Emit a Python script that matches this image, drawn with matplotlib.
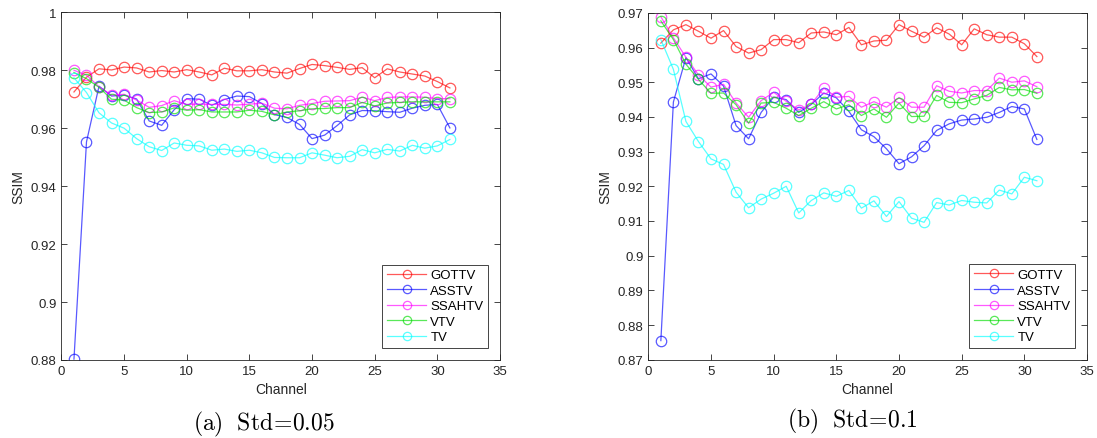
import numpy as np
import matplotlib.pyplot as plt

plt.rcParams['font.family'] = ['Liberation Sans', 'DejaVu Sans']
plt.rcParams['mathtext.fontset'] = 'cm'

channels = np.arange(1, 32)
methods = ['GOTTV', 'ASSTV', 'SSAHTV', 'VTV', 'TV']
colors = ['#ff0000', '#0000ff', '#ff00ff', '#00dd00', '#00ffff']

# SSIM per channel, noise std = 0.05
gottv_a = [0.9725, 0.9776, 0.9805, 0.9801, 0.9811, 0.9808, 0.9794, 0.9799, 0.9794, 0.9802,
           0.9794, 0.9784, 0.9807, 0.9798, 0.9798, 0.9802, 0.9794, 0.9790, 0.9806, 0.9820,
           0.9816, 0.9810, 0.9803, 0.9809, 0.9774, 0.9805, 0.9794, 0.9787, 0.9780, 0.9761, 0.9739]
asstv_a = [0.8803, 0.9553, 0.9745, 0.9711, 0.9714, 0.9701, 0.9625, 0.9610, 0.9664, 0.9702,
           0.9700, 0.9679, 0.9699, 0.9711, 0.9709, 0.9685, 0.9647, 0.9637, 0.9613, 0.9564,
           0.9576, 0.9609, 0.9646, 0.9661, 0.9660, 0.9657, 0.9655, 0.9669, 0.9679, 0.9682, 0.9601]
ssahtv_a = [0.9800, 0.9783, 0.9743, 0.9714, 0.9717, 0.9697, 0.9672, 0.9678, 0.9695, 0.9682,
            0.9683, 0.9682, 0.9682, 0.9680, 0.9683, 0.9686, 0.9669, 0.9667, 0.9679, 0.9685,
            0.9693, 0.9694, 0.9695, 0.9707, 0.9695, 0.9706, 0.9708, 0.9708, 0.9707, 0.9702, 0.9702]
vtv_a = [0.9792, 0.9771, 0.9741, 0.9700, 0.9697, 0.9671, 0.9654, 0.9656, 0.9670, 0.9662,
         0.9664, 0.9656, 0.9656, 0.9656, 0.9662, 0.9658, 0.9646, 0.9656, 0.9660, 0.9667,
         0.9668, 0.9671, 0.9671, 0.9689, 0.9677, 0.9687, 0.9689, 0.9691, 0.9691, 0.9691, 0.9691]
tv_a = [0.9774, 0.9723, 0.9653, 0.9618, 0.9600, 0.9564, 0.9536, 0.9523, 0.9549, 0.9541,
        0.9539, 0.9524, 0.9528, 0.9520, 0.9524, 0.9515, 0.9499, 0.9498, 0.9498, 0.9515,
        0.9507, 0.9498, 0.9503, 0.9526, 0.9515, 0.9527, 0.9521, 0.9541, 0.9531, 0.9539, 0.9561]

# SSIM per channel, noise std = 0.1
gottv_b = [0.9613, 0.9651, 0.9666, 0.9647, 0.9627, 0.9649, 0.9603, 0.9584, 0.9594, 0.9623,
           0.9623, 0.9614, 0.9642, 0.9645, 0.9637, 0.9658, 0.9608, 0.9619, 0.9621, 0.9666,
           0.9647, 0.9630, 0.9657, 0.9639, 0.9608, 0.9654, 0.9637, 0.9630, 0.9630, 0.9611, 0.9574]
asstv_b = [0.8755, 0.9443, 0.9571, 0.9510, 0.9524, 0.9489, 0.9375, 0.9337, 0.9413, 0.9457,
           0.9450, 0.9413, 0.9436, 0.9469, 0.9455, 0.9416, 0.9363, 0.9343, 0.9308, 0.9265,
           0.9285, 0.9317, 0.9361, 0.9380, 0.9391, 0.9394, 0.9399, 0.9413, 0.9430, 0.9423, 0.9335]
ssahtv_b = [0.9689, 0.9628, 0.9572, 0.9521, 0.9486, 0.9494, 0.9440, 0.9399, 0.9447, 0.9471,
            0.9445, 0.9420, 0.9437, 0.9483, 0.9457, 0.9459, 0.9428, 0.9444, 0.9428, 0.9456,
            0.9428, 0.9428, 0.9490, 0.9474, 0.9469, 0.9476, 0.9476, 0.9512, 0.9500, 0.9504, 0.9487]
vtv_b = [0.9677, 0.9623, 0.9552, 0.9508, 0.9468, 0.9469, 0.9435, 0.9382, 0.9440, 0.9442,
         0.9425, 0.9404, 0.9425, 0.9444, 0.9423, 0.9435, 0.9404, 0.9423, 0.9399, 0.9440,
         0.9401, 0.9402, 0.9462, 0.9442, 0.9441, 0.9452, 0.9462, 0.9485, 0.9478, 0.9479, 0.9468]
tv_b = [0.9623, 0.9537, 0.9387, 0.9329, 0.9279, 0.9263, 0.9183, 0.9138, 0.9163, 0.9180,
        0.9200, 0.9123, 0.9159, 0.9181, 0.9171, 0.9188, 0.9137, 0.9158, 0.9113, 0.9156,
        0.9108, 0.9096, 0.9153, 0.9146, 0.9159, 0.9154, 0.9152, 0.9189, 0.9178, 0.9226, 0.9216]

yticks_a = [0.88, 0.9, 0.92, 0.94, 0.96, 0.98, 1]
yticks_b = [0.87, 0.88, 0.89, 0.9, 0.91, 0.92, 0.93, 0.94, 0.95, 0.96, 0.97]

fig = plt.figure(figsize=(10.97, 4.39), dpi=100)
ax_a = fig.add_axes([0.056, 0.1777, 0.3998, 0.792])
ax_b = fig.add_axes([0.591, 0.1784, 0.3999, 0.790])

panels = [
    (ax_a, [gottv_a, asstv_a, ssahtv_a, vtv_a, tv_a], (0.88, 1.0), yticks_a),
    (ax_b, [gottv_b, asstv_b, ssahtv_b, vtv_b, tv_b], (0.87, 0.97), yticks_b),
]

for ax, series, ylim, yticks in panels:
    for name, vals, c in zip(methods, series, colors):
        ax.plot(channels, vals, '-o', color=c, alpha=0.65, lw=0.9, ms=7.5,
                mfc='none', mew=0.9, label=name)
    ax.set_xlim(0, 35)
    ax.set_ylim(*ylim)
    ax.set_xticks(range(0, 36, 5))
    ax.set_yticks(yticks)
    ax.set_yticklabels(['%g' % t for t in yticks])
    ax.tick_params(direction='in', top=True, right=True, labelsize=9.5,
                   colors='#262626', length=4, width=0.6)
    for s in ax.spines.values():
        s.set_color('#262626')
        s.set_linewidth(0.6)
    ax.set_xlabel('Channel', fontsize=10, color='#262626', labelpad=4)
    ax.set_ylabel('SSIM', fontsize=10, color='#262626')
    leg = ax.legend(loc='lower right', fontsize=9.5, handlelength=3.0,
                    handletextpad=0.3, markerscale=0.8,
                    fancybox=False, framealpha=1, edgecolor='#262626',
                    borderaxespad=0.9, labelspacing=0.25, borderpad=0.35)
    leg.get_frame().set_linewidth(0.6)
    for h in leg.get_lines():
        h.set_alpha(0.65)

fig.text(264 / 1097, 1 - 424 / 439, r'$\mathrm{(a)\ \ Std\!=\!0.05}$',
         ha='center', va='center', fontsize=17)
fig.text(852 / 1097, 1 - 421 / 439, r'$\mathrm{(b)\ \ Std\!=\!0.1}$',
         ha='center', va='center', fontsize=17)

fig.savefig('out.png', dpi=100)
